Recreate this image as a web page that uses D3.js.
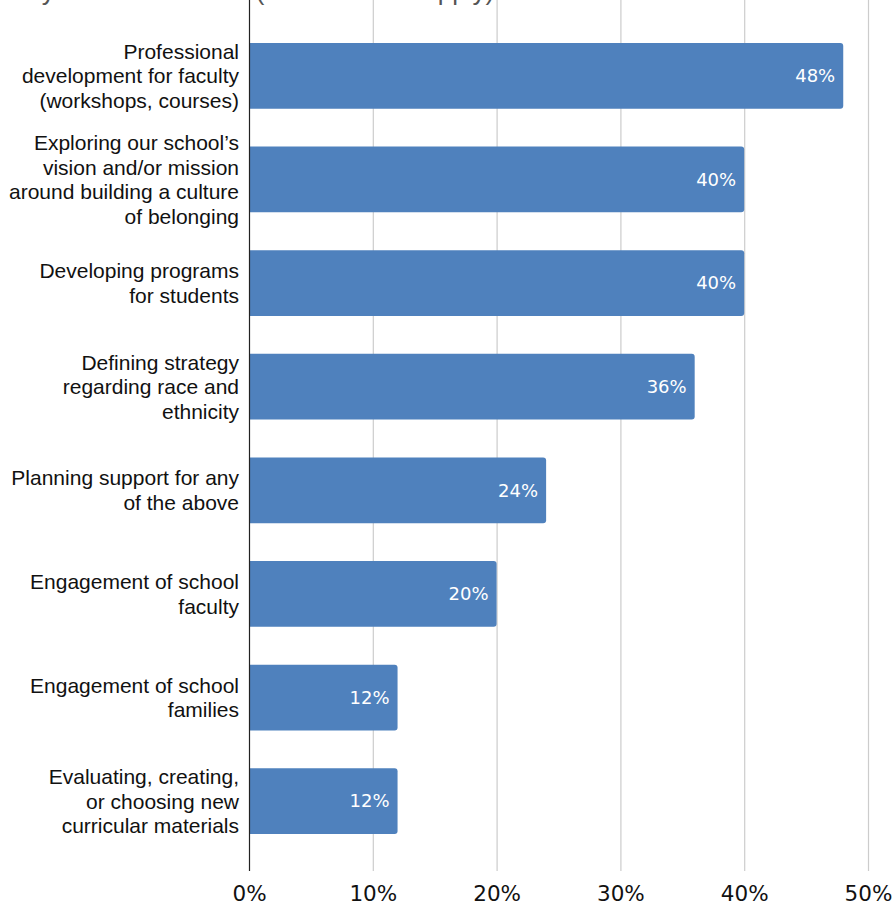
<!DOCTYPE html>
<html>
<head>
<meta charset="utf-8">
<script src="https://cdn.jsdelivr.net/npm/d3@7"></script>
<style>
  html, body { margin: 0; padding: 0; background: #fff; }
  svg { display: block; }
</style>
</head>
<body>
<svg id="chart" width="894" height="907"></svg>
<script>
// Survey responses: share of schools selecting each area
const categories = [
  ["Professional", "development for faculty", "(workshops, courses)"],
  ["Exploring our school\u2019s", "vision and/or mission", "around building a culture", "of belonging"],
  ["Developing programs", "for students"],
  ["Defining strategy", "regarding race and", "ethnicity"],
  ["Planning support for any", "of the above"],
  ["Engagement of school", "faculty"],
  ["Engagement of school", "families"],
  ["Evaluating, creating,", "or choosing new", "curricular materials"]
];
const values = [48, 40, 40, 36, 24, 20, 12, 12];
const tickValues = [0, 10, 20, 30, 40, 50];
const title = "Key areas of interest (check all that apply)";

const svg = d3.select("#chart");
const plotLeft = 249, plotRight = 868, plotTop = 24, plotBottom = 853;

const x = d3.scaleLinear().domain([0, 50]).range([plotLeft, plotRight]);
const y = d3.scaleBand()
  .domain(d3.range(categories.length))
  .range([plotTop, plotBottom])
  .paddingInner(0.366)
  .paddingOuter(0.183);

// Title (runs off the top edge)
svg.append("text")
  .attr("x", 10).attr("y", -0.5)
  .attr("font-family", "Liberation Sans, Arial, sans-serif")
  .attr("font-size", 26)
  .attr("fill", "#555")
  .text(title);

// Vertical gridlines
svg.append("g")
  .selectAll("line")
  .data(tickValues.filter(d => d > 0))
  .join("line")
  .attr("x1", d => x(d) + 0.5).attr("x2", d => x(d) + 0.5)
  .attr("y1", 0).attr("y2", 871)
  .attr("stroke", "#cccccc")
  .attr("stroke-width", 1.2);

// Bars
svg.append("g")
  .selectAll("path")
  .data(values)
  .join("path")
  .attr("fill", "#4f81bd")
  .attr("d", (d, i) => {
    const x0 = x(0), x1 = x(d), y0 = y(i), h = y.bandwidth(), r = 3;
    return `M${x0},${y0}H${x1 - r}Q${x1},${y0} ${x1},${y0 + r}V${y0 + h - r}Q${x1},${y0 + h} ${x1 - r},${y0 + h}H${x0}Z`;
  });

// Value labels inside bars
svg.append("g")
  .selectAll("text")
  .data(values)
  .join("text")
  .attr("x", d => x(d) - 8)
  .attr("y", (d, i) => y(i) + y.bandwidth() / 2)
  .attr("dy", "0.35em")
  .attr("text-anchor", "end")
  .attr("font-family", "DejaVu Sans, Verdana, sans-serif")
  .attr("font-size", 18)
  .attr("fill", "#ffffff")
  .text(d => d + "%");

// Category labels
const lineH = 24.5;
const labels = svg.append("g")
  .selectAll("text")
  .data(categories)
  .join("text")
  .attr("text-anchor", "end")
  .attr("font-family", "Liberation Sans, Arial, sans-serif")
  .attr("font-size", 21)
  .attr("fill", "#111");
labels.each(function (lines, i) {
  const cy = y(i) + y.bandwidth() / 2;
  const y0 = cy - (lines.length - 1) * lineH / 2;
  d3.select(this).selectAll("tspan")
    .data(lines)
    .join("tspan")
    .attr("x", 239)
    .attr("y", (d, j) => y0 + j * lineH)
    .attr("dy", "0.35em")
    .text(d => d);
});

// Axis baseline
svg.append("line")
  .attr("x1", plotLeft + 0.5).attr("x2", plotLeft + 0.5)
  .attr("y1", 0).attr("y2", 871)
  .attr("stroke", "#222")
  .attr("stroke-width", 1.2);

// X axis tick labels
const xAxis = d3.axisBottom(x)
  .tickValues(tickValues)
  .tickFormat(d => d + "%")
  .tickSize(0)
  .tickPadding(0);
const gx = svg.append("g")
  .attr("transform", "translate(0,886)")
  .call(xAxis);
gx.select(".domain").remove();
gx.selectAll("text")
  .attr("font-family", "DejaVu Sans, Verdana, sans-serif")
  .attr("font-size", 21.5)
  .attr("fill", "#111");
</script>
</body>
</html>
